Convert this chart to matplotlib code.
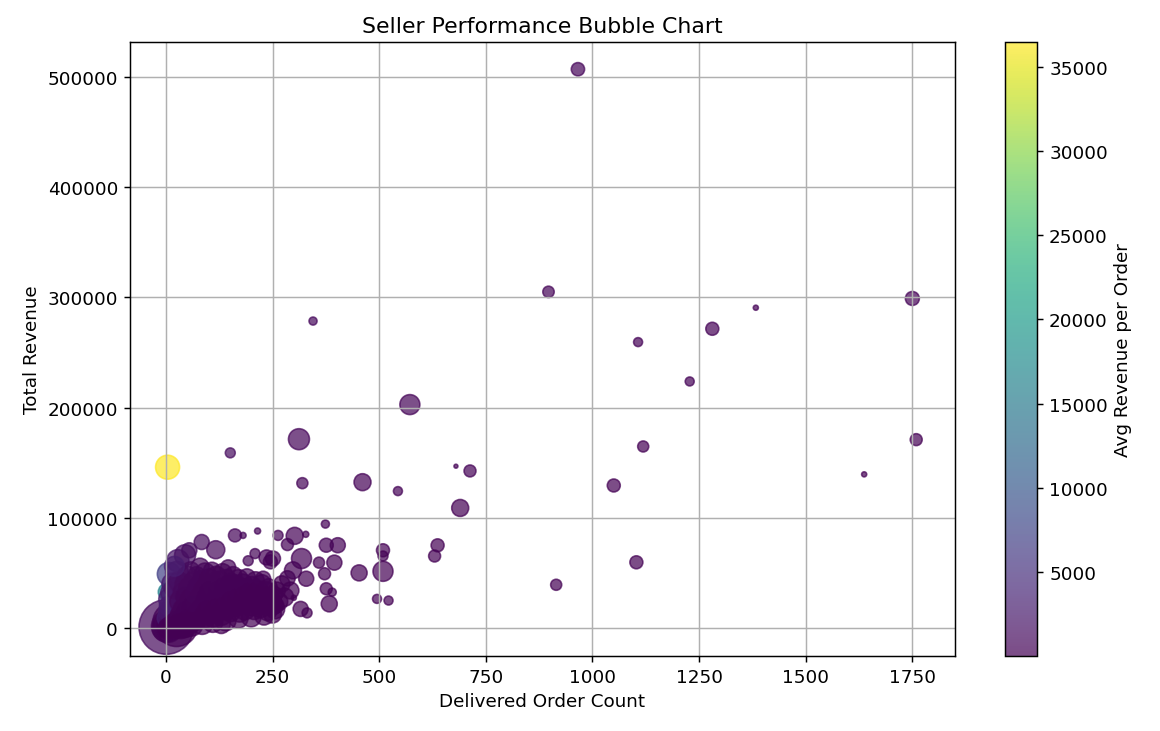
import matplotlib
matplotlib.use("Agg")
import matplotlib.pyplot as plt
import numpy as np

# Seller data: delivered orders, total revenue, bubble size (marker area)
orders = [
    # big bubbles near the origin
    1, 25, 12, 7, 2, 5, 4,
    # low order sellers
    1, 2, 3, 4, 5, 6, 8, 9, 10, 12, 14, 15, 17, 18, 20, 22, 24, 25, 27, 28, 30,
    3, 6, 8, 12, 16, 10, 22, 26, 30, 28, 45,
    2, 4, 7, 11, 13, 16, 19, 21, 23, 26, 29, 31, 34, 37, 39, 41, 43, 47, 49, 53, 56, 59,
    # 30-60
    32, 35, 36, 38, 40, 42, 44, 46, 48, 50, 52, 54, 55, 57, 58, 60,
    # 60-100
    62, 64, 66, 68, 70, 72, 74, 76, 78, 80, 82, 84, 86, 88, 90, 92, 94, 96, 98, 100,
    # 100-150
    102, 104, 106, 108, 110, 113, 115, 118, 120, 123, 125, 128, 130, 133, 135, 138, 140, 143, 146, 148,
    # 150-200
    151, 153, 156, 158, 160, 163, 165, 168, 170, 173, 175, 178, 180, 183, 185, 188, 190, 193, 196, 198,
    # 200-300
    201, 204, 207, 210, 213, 216, 219, 222, 225, 228, 231, 234, 238, 241, 244, 248, 252, 256, 260,
    265, 272, 278, 285, 292,
    # low revenue band
    110, 140, 170, 200, 230, 250, 85, 60, 45, 35, 130,
    # upper edge of the cluster
    20, 55, 84, 117, 146, 162, 181, 193, 209, 215, 236, 251, 263, 285, 302, 328, 318, 298, 329,
    245, 228, 259, 316, 331, 300, 249,
    359, 372, 376, 403, 395, 376, 390, 383, 374,
    453, 461, 509, 509, 509, 495, 522, 637, 630, 544, 572, 312, 320, 151, 345,
    # outliers
    4, 680, 713, 690, 897, 966, 1383, 1750, 1281, 1107, 1228, 1119, 1759, 1637, 1050, 1103, 915,
]
revenue = [
    900, 2500, 6000, 49000, 32700, 17000, 1500,
    300, 800, 1500, 600, 2000, 3500, 1200, 5000, 8000, 2500, 11000, 4000, 14000, 7000, 21000, 9000, 26000, 15000, 3500, 31000, 19000,
    9000, 14000, 20000, 32000, 40000, 26000, 36000, 50000, 42000, 61000, 66000,
    200, 900, 1800, 3200, 700, 2400, 5200, 1300, 6800, 3900, 8600, 11500, 2800, 7400, 15500, 10200, 5600, 19000, 13000, 8200, 16500, 11800,
    6000, 12000, 24000, 33000, 4500, 17000, 40000, 9000, 28000, 47000, 14000, 21000, 36000, 6500, 52000, 26000,
    11000, 42000, 18000, 31000, 8000, 48000, 23000, 37000, 13000, 55000, 28000, 44000, 16000, 34000, 9500, 50000, 21000, 39000, 27000, 14000,
    45000, 32000, 19000, 52000, 11000, 38000, 25000, 47000, 16000, 33000, 42000, 22000, 12500, 50000, 29000, 37000, 18000, 45000, 26000, 34000,
    15000, 41000, 23000, 48000, 31000, 19000, 38000, 27000, 44000, 14000, 33000, 22000, 40000, 29000, 17000, 36000, 46000, 25000, 32000, 20000,
    38000, 27000, 16000, 43000, 31000, 22000, 35000, 18000, 40000, 28000, 24000, 33000, 15000, 37000, 26000, 21000, 30000, 17000, 34000,
    24000, 40000, 28000, 45000, 34000,
    5000, 7000, 8500, 10000, 11000, 12500, 4000, 3000, 2000, 1500, 3000,
    56000, 70500, 78000, 71000, 55000, 84000, 84000, 61000, 67500, 88000, 64000, 63000, 84000, 75700, 83600, 85000, 63000, 52300, 44700,
    60000, 44700, 20400, 17300, 13700, 27400, 21800,
    59300, 49200, 75100, 75100, 59300, 35600, 32500, 21900, 94300,
    50000, 132300, 51400, 70500, 65300, 26400, 24900, 75000, 65300, 124200, 202700, 171300, 131400, 158900, 278500,
    145900, 146800, 142500, 108900, 305000, 507000, 290600, 299000, 271500, 259400, 223700, 164700, 170900, 139400, 129300, 59600, 39200,
]
bubble_size = [
    1150, 700, 500, 205, 110, 120, 400,
    300, 250, 200, 150, 180, 260, 220, 160, 200, 300, 180, 240, 150, 200, 170, 230, 140, 200, 260, 160, 190,
    150, 140, 150, 160, 180, 200, 170, 200, 150, 190, 170,
    100, 120, 90, 110, 130, 100, 120, 140, 100, 130, 110, 120, 140, 100, 120, 130, 110, 140, 100, 120, 130, 110,
    180, 150, 200, 120, 220, 170, 140, 200, 160, 150, 190, 130, 170, 210, 120, 180,
    160, 140, 200, 130, 190, 110, 170, 150, 180, 130, 160, 120, 200, 140, 170, 150, 180, 130, 160, 200,
    140, 170, 150, 110, 190, 160, 130, 150, 180, 140, 170, 120, 190, 130, 160, 140, 180, 120, 150, 170,
    160, 140, 180, 110, 150, 130, 170, 120, 150, 140, 180, 130, 150, 120, 170, 140, 110, 160, 130, 150,
    140, 160, 130, 120, 150, 170, 110, 140, 130, 160, 120, 150, 130, 110, 140, 170, 120, 140, 110,
    120, 100, 130, 90, 110,
    150, 170, 140, 150, 130, 120, 180, 200, 210, 230, 120,
    150, 87, 87, 125, 87, 65, 14, 38, 38, 14, 87, 87, 38, 55, 111, 14, 154, 111, 87,
    75, 87, 87, 87, 38, 10, 154,
    47, 55, 75, 87, 87, 55, 25, 99, 25,
    99, 111, 154, 65, 38, 31, 31, 65, 55, 31, 154, 170, 47, 38, 25,
    222, 6, 55, 111, 50, 68, 10, 75, 65, 31, 31, 47, 55, 10, 65, 65, 47,
]

orders = np.array(orders)
revenue = np.array(revenue)
avg_revenue = revenue / orders

# reference text renders a bit larger than the default
k = 1.14
plt.rcParams.update({
    "font.size": 10 * k,
    "axes.linewidth": 0.8 * k,
    "grid.linewidth": 0.8 * k,
    "xtick.major.size": 3.5 * k,
    "ytick.major.size": 3.5 * k,
    "xtick.major.width": 0.8 * k,
    "ytick.major.width": 0.8 * k,
})

fig = plt.figure(figsize=(10, 6.31), dpi=116)
ax = fig.add_axes([0.1121, 0.1025, 0.7112, 0.8388])
cax = fig.add_axes([0.8664, 0.1025, 0.0276, 0.8388])

sc = ax.scatter(orders, revenue, s=bubble_size, c=avg_revenue, cmap="viridis", alpha=0.7)
cbar = fig.colorbar(sc, cax=cax)
cbar.set_label("Avg Revenue per Order")

ax.set_title("Seller Performance Bubble Chart")
ax.set_xlabel("Delivered Order Count")
ax.set_ylabel("Total Revenue")
ax.set_xlim(-84, 1850)
ax.set_ylim(-25400, 531700)
ax.grid(True)

fig.savefig("out.png", dpi=116)
